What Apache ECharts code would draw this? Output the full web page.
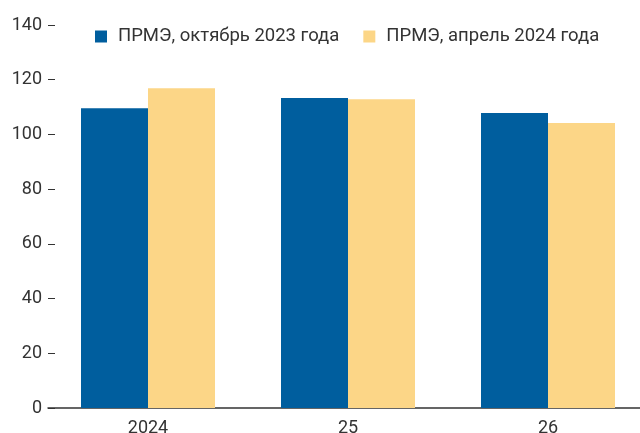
<!DOCTYPE html>
<html>
<head>
<meta charset="utf-8">
<script src="https://cdn.jsdelivr.net/npm/echarts@6/dist/echarts.min.js"></script>
<style>html,body{margin:0;padding:0;background:#fff}#c{width:640px;height:433px}</style>
</head>
<body>
<div id="c"></div>
<script>
var categories = ['2024', '25', '26'];
var seriesNames = ['ПРМЭ, октябрь 2023 года', 'ПРМЭ, апрель 2024 года'];
var oct2023 = [109.6, 113.3, 107.8];
var apr2024 = [116.9, 112.9, 104.2];
var yTicks = [0, 20, 40, 60, 80, 100, 120, 140];

var FONT = 'Roboto';
var chart = echarts.init(document.getElementById('c'), null, {renderer: 'canvas'});
chart.setOption({
  animation: false,
  backgroundColor: '#fff',
  textStyle: {fontFamily: FONT},
  grid: {left: 48, width: 600, top: 25, bottom: 25, containLabel: false, outerBoundsMode: 'none'},
  legend: {
    left: 90, top: 22,
    itemWidth: 12, itemHeight: 12, itemGap: 24,
    icon: 'rect',
    textStyle: {fontFamily: FONT, fontSize: 18.5, color: '#333', padding: [0, 0, 0, 6]},
    data: seriesNames
  },
  xAxis: {
    type: 'category',
    data: categories,
    axisLine: {lineStyle: {color: '#333', width: 1.5}},
    axisTick: {inside: true, length: 8, lineStyle: {color: '#333'}},
    axisLabel: {fontFamily: FONT, fontSize: 18, color: '#333', margin: 11}
  },
  yAxis: {
    type: 'value',
    min: 0, max: 140, interval: 20,
    splitLine: {show: false},
    axisLine: {show: false},
    axisTick: {show: true, inside: true, length: 7, lineStyle: {color: '#333'}},
    axisLabel: {
      fontFamily: FONT, fontSize: 18, color: '#333', margin: 6,
      formatter: function (v) { return yTicks.indexOf(v) >= 0 ? String(v) : ''; }
    }
  },
  series: [
    {name: seriesNames[0], type: 'bar', data: oct2023, barGap: '0%', barCategoryGap: '33%', itemStyle: {color: '#005e9e'}},
    {name: seriesNames[1], type: 'bar', data: apr2024, barGap: '0%', barCategoryGap: '33%', itemStyle: {color: '#fcd687'}}
  ]
});
</script>
</body>
</html>
